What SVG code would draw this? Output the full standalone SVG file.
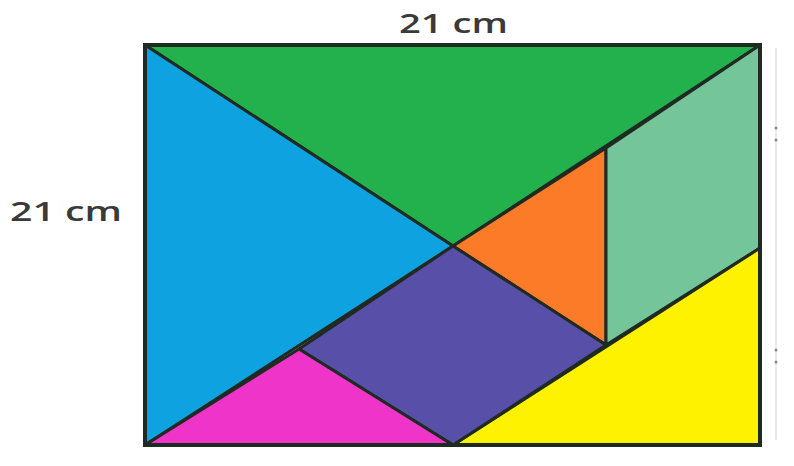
<svg xmlns="http://www.w3.org/2000/svg" width="794" height="466" viewBox="0 0 794 466">
<style>
.p{stroke:#1f2a22;stroke-width:3;stroke-linejoin:round}
.t{font-family:"Open Sans","Liberation Sans",sans-serif;font-size:27px;font-weight:600;fill:#3a3a3a}
</style>
<rect width="794" height="466" fill="#ffffff"/>
<g id="scale">
<line x1="776" y1="48" x2="776" y2="440" stroke="#e2e2e2" stroke-width="1.5"/>
<circle cx="776" cy="128" r="1.5" fill="#888"/>
<circle cx="776" cy="140" r="1.5" fill="#888"/>
<circle cx="776" cy="350" r="1.5" fill="#888"/>
<circle cx="776" cy="362" r="1.5" fill="#888"/>
</g>
<g id="green"><polygon class="p" fill="#22b14c" points="145,45 760,45 453,246"/></g>
<g id="blue"><polygon class="p" fill="#0ea2e0" points="145,45 453,246 145,445"/></g>
<g id="orange"><polygon class="p" fill="#fb7b28" points="453,246 606,148 606,345"/></g>
<g id="teal"><polygon class="p" fill="#74c69a" points="606,148 760,45 760,248 606,345"/></g>
<g id="yellow"><polygon class="p" fill="#fff200" points="760,248 760,445 453,445"/></g>
<g id="purple"><polygon class="p" fill="#5850a8" points="453,246 606,345 453,445 299,349"/></g>
<g id="magenta"><polygon class="p" fill="#ef35c9" points="145,445 299,349 453,445"/></g>
<g id="frame"><rect x="145" y="45" width="615" height="400" fill="none" stroke="#1f2a22" stroke-width="4"/></g>
<g id="labels">
<text class="t" x="399" y="33" textLength="109" lengthAdjust="spacingAndGlyphs">21 cm</text>
<text class="t" x="10" y="221" textLength="112" lengthAdjust="spacingAndGlyphs">21 cm</text>
</g>
</svg>
